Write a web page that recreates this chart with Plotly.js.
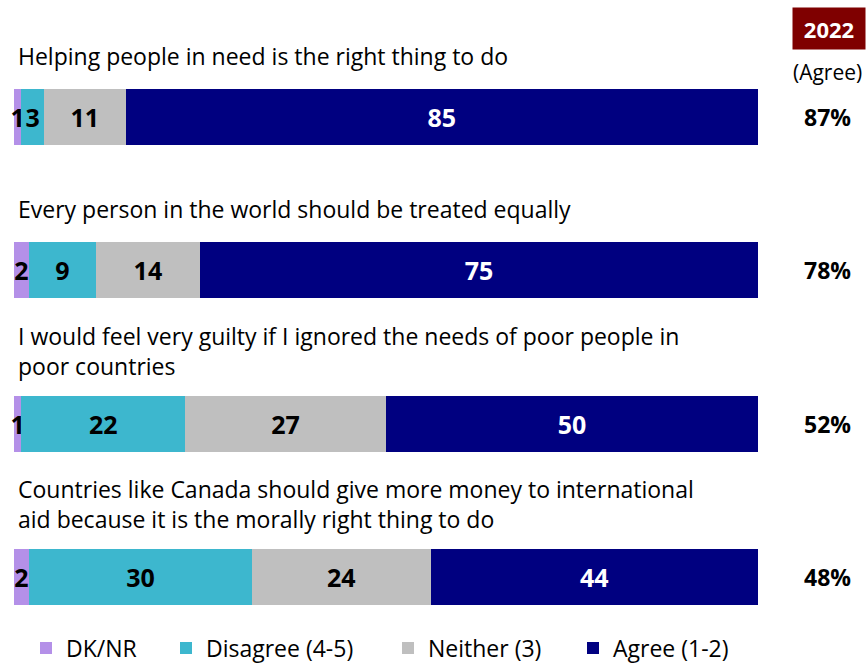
<!DOCTYPE html>
<html>
<head>
<meta charset="utf-8">
<script src="https://cdn.plot.ly/plotly-3.0.1.min.js"></script>
<style>html,body{margin:0;padding:0;background:#fff;}#chart{width:866px;height:665px;}</style>
</head>
<body>
<div id="chart"></div>
<script>
const statements = [
  "Helping people in need is the right thing to do",
  "Every person in the world should be treated equally",
  "I would feel very guilty if I ignored the needs of poor people in<br>poor countries",
  "Countries like Canada should give more money to international<br>aid because it is the morally right thing to do"
];
const seriesNames = ["DK/NR", "Disagree (4-5)", "Neither (3)", "Agree (1-2)"];
const dkNr     = [1, 2, 1, 2];
const disagree = [3, 9, 22, 30];
const neither  = [11, 14, 27, 24];
const agree    = [85, 75, 50, 44];
const agree2022 = ["87%", "78%", "52%", "48%"];
const yearLabel = "2022";
const agreeHeader = "(Agree)";

const colors = ["#B490E8", "#3DB7CE", "#BFBFBF", "#000080"];
const textColors = ["#000000", "#000000", "#000000", "#FFFFFF"];
const legendWidths = [95, 177, 140, 130];
const FONT = "'Open Sans', 'Noto Sans', sans-serif";

const W = 866, H = 665, L = 14, R = 108;
const plotW = W - L - R;
const px2paperX = p => (p - L) / plotW;
const px2paperY = p => 1 - p / H;

const yIdx = [0, 1, 2, 3];
const allSeries = [dkNr, disagree, neither, agree];

const traces = allSeries.map((vals, s) => ({
  type: "bar",
  orientation: "h",
  name: seriesNames[s],
  legendwidth: legendWidths[s],
  x: vals,
  y: yIdx,
  width: 0.365,
  marker: {color: colors[s], line: {width: 0}},
  text: vals.map(String),
  textposition: "inside",
  insidetextanchor: "middle",
  textangle: 0,
  constraintext: "none",
  cliponaxis: false,
  insidetextfont: {family: FONT, size: 25, color: textColors[s], weight: "bold"},
  hoverinfo: "none"
}));

const annotations = [];
statements.forEach((st, i) => {
  const lines = st.split("<br>");
  const base = lines.length === 1 ? 61 : 58;
  lines.forEach((ln, k) => {
    annotations.push({
      xref: "paper", yref: "y",
      x: px2paperX(18), y: i,
      xanchor: "left", yanchor: "middle",
      yshift: base + 30 * (lines.length - 1 - k),
      xshift: -2,
      text: ln, showarrow: false,
      font: {family: FONT, size: 23, color: "#000"}
    });
  });
  annotations.push({
    xref: "paper", yref: "y",
    x: px2paperX(828), y: i,
    xanchor: "center", yanchor: "middle",
    text: "<b>" + agree2022[i] + "</b>", showarrow: false,
    font: {family: FONT, size: 23, color: "#000"}
  });
});
annotations.push({
  xref: "paper", yref: "paper",
  x: px2paperX(829), y: px2paperY(28.5),
  xanchor: "center", yanchor: "middle",
  text: "<b>" + yearLabel + "</b>", showarrow: false,
  bgcolor: "#7F0000", width: 70, height: 39, borderpad: 1,
  font: {family: FONT, size: 22, color: "#fff"}
});
annotations.push({
  xref: "paper", yref: "paper",
  x: px2paperX(827), y: px2paperY(72),
  xanchor: "center", yanchor: "middle",
  text: agreeHeader, showarrow: false,
  font: {family: FONT, size: 21, color: "#000"}
});

const layout = {
  width: W, height: H,
  margin: {l: L, r: R, t: 0, b: 0, pad: 0, autoexpand: false},
  paper_bgcolor: "#fff", plot_bgcolor: "#fff",
  barmode: "stack",
  showlegend: true,
  legend: {
    orientation: "h",
    x: px2paperX(26), xanchor: "left",
    y: px2paperY(648), yanchor: "middle",
    traceorder: "normal",
    font: {family: FONT, size: 23, color: "#000"},
    itemwidth: 30
  },
  xaxis: {range: [0, 100], visible: false, fixedrange: true},
  yaxis: {range: [3 + 88 / 153.33, -117 / 153.33], visible: false, fixedrange: true},
  annotations: annotations,
  font: {family: FONT}
};

Plotly.newPlot("chart", traces, layout, {displayModeBar: false, staticPlot: true});
</script>
</body>
</html>
